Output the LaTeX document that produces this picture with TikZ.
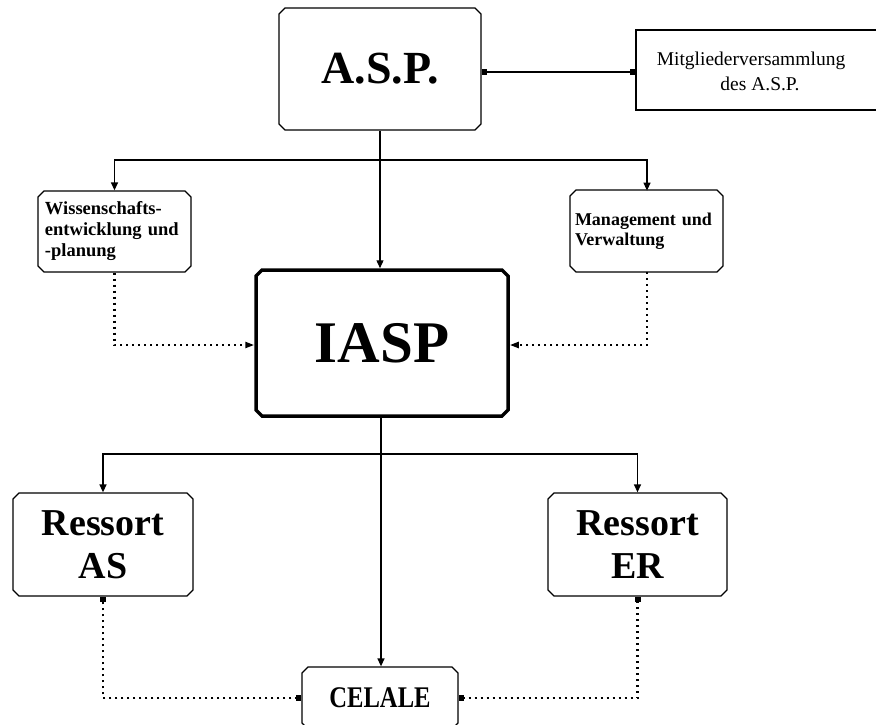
\documentclass[tikz,border=0pt]{standalone}
\usepackage{fontspec}
\setmainfont{Liberation Serif}
\usetikzlibrary{shapes.misc,arrows.meta}
\begin{document}
\begin{tikzpicture}[x=1pt,y=-1pt,
  box/.style={chamfered rectangle, chamfered rectangle xsep=3pt, chamfered rectangle ysep=3pt,
    draw, line width=1.3pt, inner sep=0pt, fill=white},
  conn/.style={line width=1.3pt},
  arr/.style={conn, -{Triangle[length=8pt,width=7pt]}},
  dotline/.style={line width=2.2pt, dash pattern=on 2pt off 4pt},
  sqsq/.style={{Square[length=5pt,width=6pt]}-{Square[length=5pt,width=6pt]}},
  txt/.style={inner sep=0pt}
]
\useasboundingbox (0,0) rectangle (876,724);
\clip (0,0) rectangle (876,724);

\node[box, minimum width=202pt, minimum height=122pt, font=\fontsize{46}{50}\selectfont\bfseries] (asp) at (380,69)
  {A.S.P.};
\node[box, minimum width=254pt, minimum height=80pt] (mvbox) at (763,70) {};
\node[txt, align=center, font=\fontsize{19.5}{25}\selectfont] (mvtext) at (751,71)
  {Mitgliederversammlung\\ \hspace*{18pt}des A.S.P.};

\node[box, minimum width=153pt, minimum height=81pt, text width=139pt, align=left,
      font=\fontsize{18.5}{21}\selectfont\bfseries] (wiss) at (114.5,231.5)
  {Wissenschafts-\\entwicklung und\\-planung};
\node[box, minimum width=153pt, minimum height=82pt, text width=143pt, align=left,
      font=\fontsize{18}{20}\selectfont\bfseries] (mgmt) at (646.5,231)
  {Management und\\Verwaltung};

\node[box, line width=3.5pt, minimum width=252pt, minimum height=146pt,
      font=\fontsize{59}{62}\selectfont\bfseries] (iasp) at (382,343)
  {IASP};

\node[box, minimum width=180pt, minimum height=103pt, align=center,
      font=\fontsize{38}{43}\selectfont\bfseries] (ressas) at (103,544.5)
  {Ressort\\AS};
\node[box, minimum width=179pt, minimum height=103pt, align=center,
      font=\fontsize{38}{43}\selectfont\bfseries] (resser) at (637.5,544.5)
  {Ressort\\ER};

\node[box, minimum width=156pt, minimum height=62pt, font=\fontsize{30}{32}\selectfont\bfseries] (celale) at (380,698)
  {\raisebox{-4pt}{\scalebox{0.82}[1]{CELALE}}};

\coordinate (j1) at (380,160);
\coordinate (j2) at (381,454);

% top connections
\draw[conn, sqsq] ([yshift=-3pt]asp.east) -- ([yshift=-3pt]asp.east -| mvbox.west);
\draw[arr] (asp.south) -- (asp.south |- iasp.north);
\draw[arr] (j1) -| (wiss.north);
\draw[arr] (j1) -| (647,190.6);
\draw[dotline, -{Triangle[length=9pt,width=6pt]}] (wiss.south) |- ([yshift=-2pt]iasp.west);
\draw[dotline, -{Triangle[length=9pt,width=6pt]}] (647,272) |- ([yshift=-2pt]iasp.east);

% bottom connections
\draw[arr] (iasp.south -| j2) -- (j2 |- celale.north);
\draw[arr] (j2) -| (ressas.north);
\draw[arr] (j2) -| (resser.north);
\draw[dotline, sqsq] (celale.west) -| (ressas.south);
\draw[dotline, sqsq] (celale.east) -| (resser.south);
\end{tikzpicture}
\end{document}
